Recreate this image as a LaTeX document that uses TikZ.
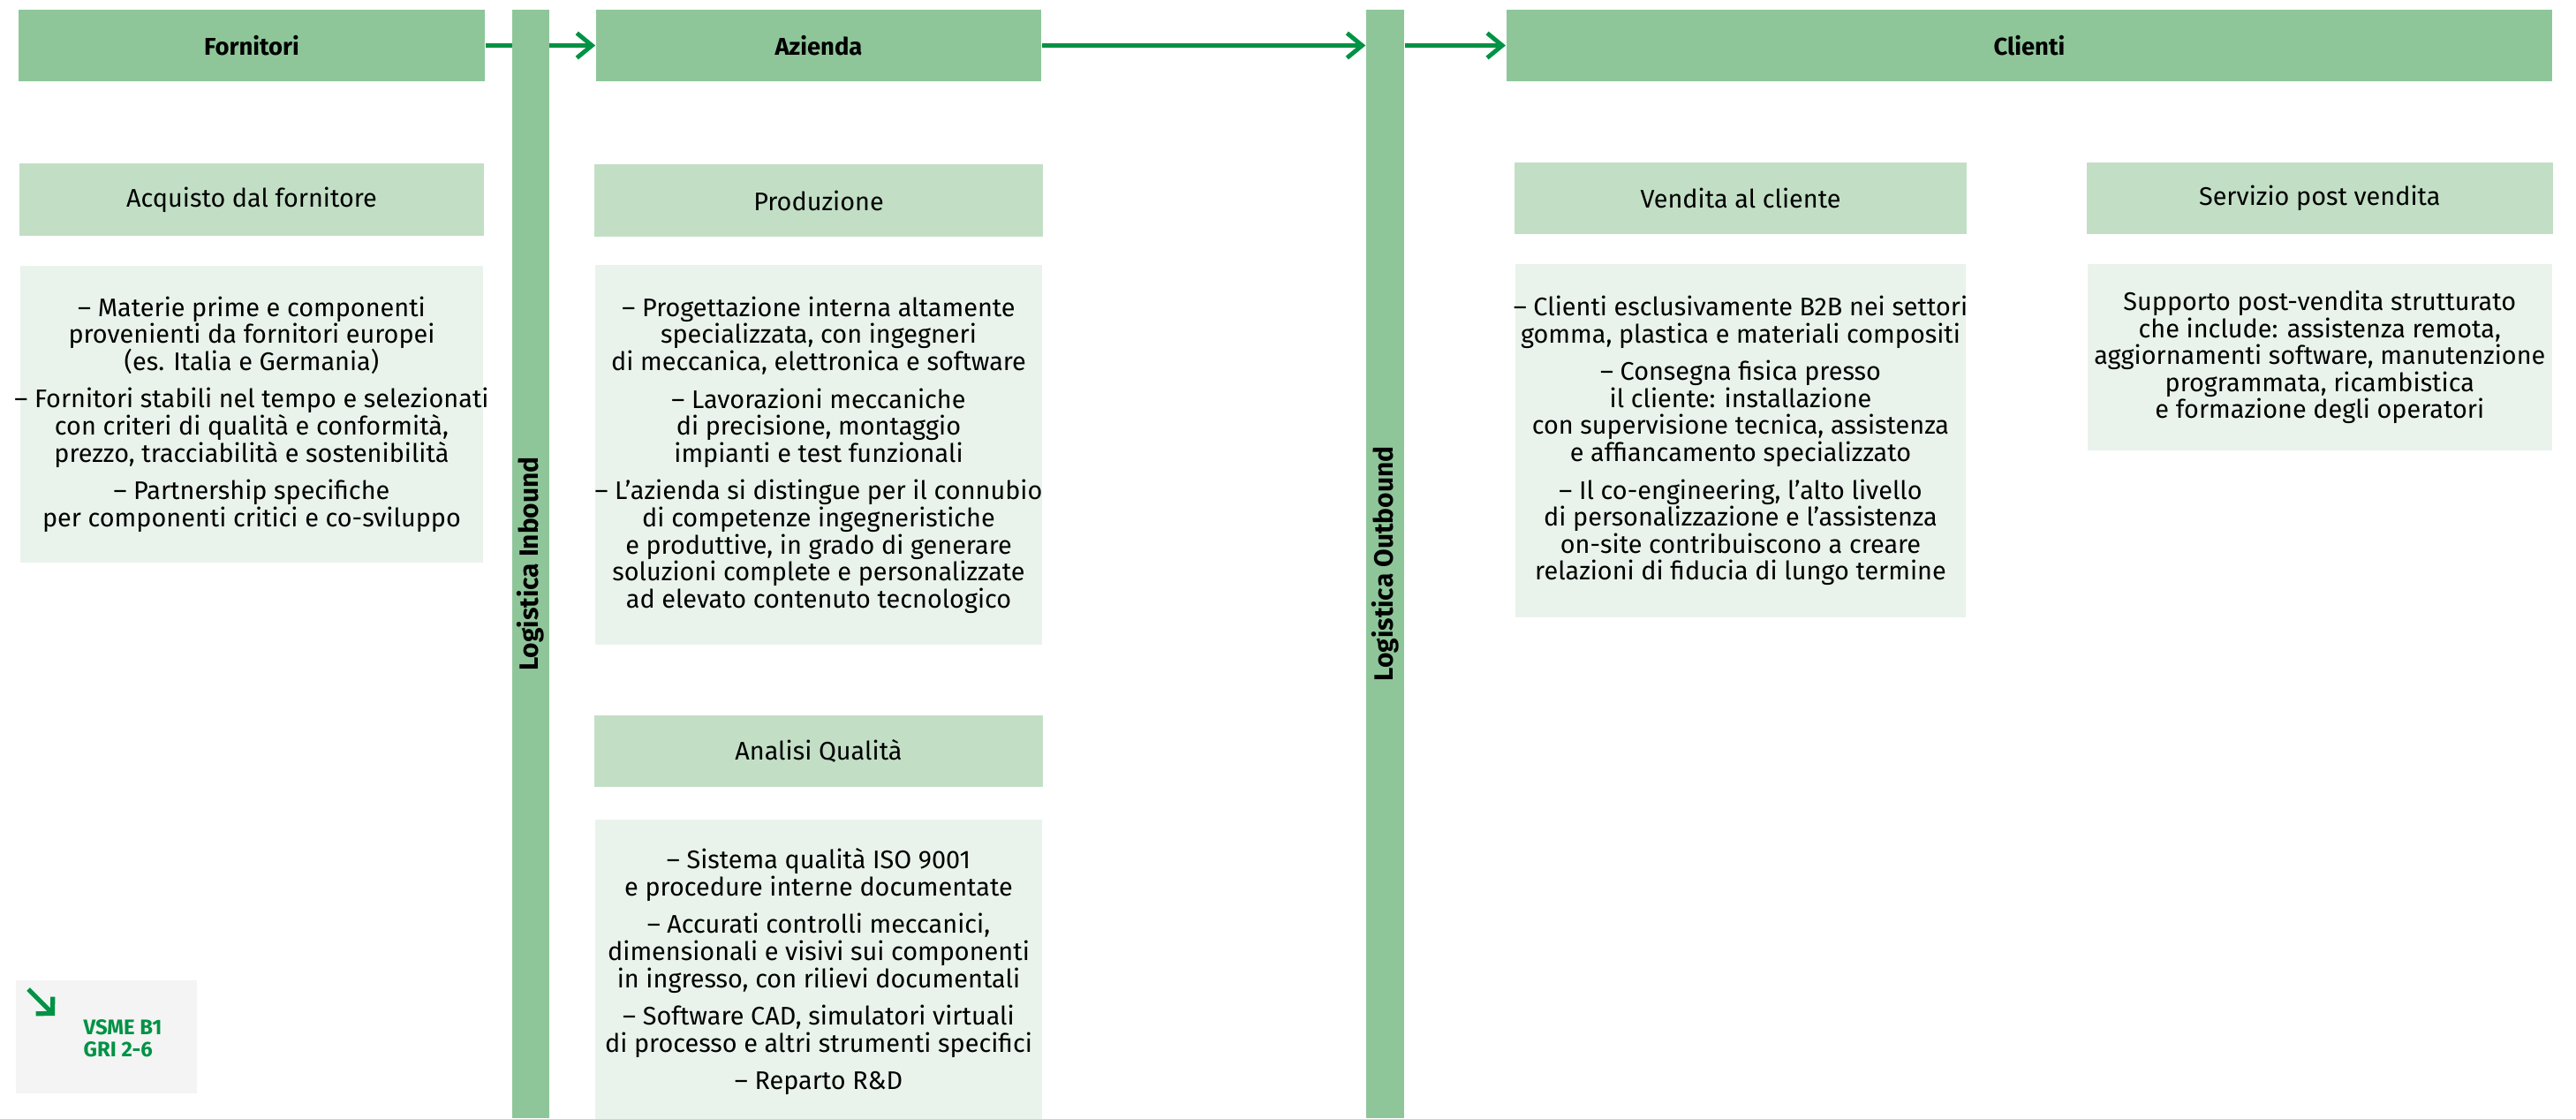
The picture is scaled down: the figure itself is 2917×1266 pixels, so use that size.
\documentclass[tikz,border=0pt]{standalone}
\usepackage{fontspec}
\setmainfont{Fira Sans}
\usepackage{xcolor}
\definecolor{verdescuro}{RGB}{142,198,153}
\definecolor{verdemedio}{RGB}{194,223,198}
\definecolor{verdechiaro}{RGB}{233,243,235}
\definecolor{verdefreccia}{RGB}{0,146,69}
\definecolor{grigiochiaro}{RGB}{244,244,244}
\usepackage{tikz}
\usetikzlibrary{positioning}
\usetikzlibrary{arrows.meta}

\begin{document}
\begin{tikzpicture}[x=0.01cm,y=-0.01cm]
		\tikzstyle{testata}=[rectangle, fill=verdescuro, minimum height=0.81cm, inner sep=0pt, font=\fontsize{7.8}{9}\selectfont\bfseries]
		\tikzstyle{sezione}=[rectangle, fill=verdemedio, minimum height=0.81cm, inner sep=0pt, font=\fontsize{8.2}{9}\selectfont]
		\tikzstyle{descrizione}=[rectangle, fill=verdechiaro, inner ysep=0pt, inner xsep=-0.3cm, align=center, font=\fontsize{8.2}{8.7}\selectfont]
		\tikzstyle{logistica}=[rectangle, fill=verdescuro, minimum height=12.55cm, inner sep=0pt, font=\fontsize{8.5}{9}\selectfont\bfseries]
		\tikzstyle{flusso}=[->, line width=1.4pt, draw=verdefreccia]
		\tikzset{>={Straight Barb[length=0.17cm, width=0.28cm]}}
		\useasboundingbox (0,0) rectangle (2917,1266);
		\node[testata, minimum width=5.28cm] (fornitori) at (285,51.5) {Fornitori};
		\node[testata, minimum width=5.04cm] (azienda) at (927,51.5) {Azienda};
		\node[testata, minimum width=11.84cm] (clienti) at (2298,51.5) {Clienti};
		\path (fornitori) edge[flusso] (azienda);
		\node[logistica, minimum width=0.42cm] (inbound) at (601,638.5) {\rotatebox{90}{Logistica Inbound}};
		\node[logistica, minimum width=0.43cm] (outbound) at (1568.5,638.5) {\rotatebox{90}{Logistica Outbound}};
		\path (azienda.east) edge[flusso] (azienda.east -| outbound.west);
		\path (azienda.east -| outbound.east) edge[flusso] (clienti);
		\node[sezione, minimum width=5.26cm, below=0.92cm of fornitori] (acquisto) {Acquisto dal fornitore};
		\node[descrizione, minimum width=5.24cm, minimum height=3.36cm, below=0.33cm of acquisto] (acquistotesto) {%
			– Materie prime e componenti\\
			provenienti da fornitori europei\\
			(es. Italia e Germania)\\[3.4pt]
			– Fornitori stabili nel tempo e selezionati\\
			con criteri di qualità e conformità,\\
			prezzo, tracciabilità e sostenibilità\\[3.4pt]
			– Partnership specifiche\\
			per componenti critici e co-sviluppo};
		\node[sezione, minimum width=5.08cm, below=0.93cm of azienda] (produzione) {Produzione};
		\node[descrizione, minimum width=5.06cm, minimum height=4.30cm, below=0.31cm of produzione] (produzionetesto) {%
			– Progettazione interna altamente\\
			specializzata, con ingegneri\\
			di meccanica, elettronica e software\\[3.4pt]
			– Lavorazioni meccaniche\\
			di precisione, montaggio\\
			impianti e test funzionali\\[3.4pt]
			– L’azienda si distingue per il connubio\\
			di competenze ingegneristiche\\
			e produttive, in grado di generare\\
			soluzioni complete e personalizzate\\
			ad elevato contenuto tecnologico};
		\node[sezione, minimum width=5.08cm, below=0.78cm of produzionetesto] (analisi) {Analisi Qualità};
		\node[descrizione, minimum width=5.06cm, minimum height=3.44cm, below=0.36cm of analisi] (analisitesto) {%
			– Sistema qualità ISO 9001\\
			e procedure interne documentate\\[3.4pt]
			– Accurati controlli meccanici,\\
			dimensionali e visivi sui componenti\\
			in ingresso, con rilievi documentali\\[3.4pt]
			– Software CAD, simulatori virtuali\\
			di processo e altri strumenti specifici\\[3.4pt]
			– Reparto R\&D};
		\node[sezione, minimum width=5.12cm] (vendita) at (1971,224.5) {Vendita al cliente};
		\node[sezione, minimum width=5.28cm, right=1.34cm of vendita] (servizio) {Servizio post vendita};
		\node[descrizione, minimum width=5.10cm, minimum height=3.99cm, below=0.33cm of vendita] (venditatesto) {%
			– Clienti esclusivamente B2B nei settori\\
			gomma, plastica e materiali compositi\\[3.4pt]
			– Consegna fisica presso\\
			il cliente: installazione\\
			con supervisione tecnica, assistenza\\
			e affiancamento specializzato\\[3.4pt]
			– Il co-engineering, l’alto livello\\
			di personalizzazione e l’assistenza\\
			on-site contribuiscono a creare\\
			relazioni di fiducia di lungo termine};
		\node[descrizione, minimum width=5.26cm, minimum height=2.10cm, below=0.33cm of servizio] (serviziotesto) {%
			Supporto post-vendita strutturato\\
			che include: assistenza remota,\\
			aggiornamenti software, manutenzione\\
			programmata, ricambistica\\
			e formazione degli operatori};
		\node[rectangle, fill=grigiochiaro, minimum width=2.05cm, minimum height=1.28cm] (vsme) at (120.5,1174) {};
		\node[anchor=west, align=left, inner sep=0pt, text=verdefreccia, font=\fontsize{6.8}{7.1}\selectfont\bfseries] (gri) at (94,1176) {VSME B1\\GRI 2-6};
		\coordinate (vsmecoda) at (32,1120);
		\coordinate (vsmepunta) at (62,1150);
		\path (vsmecoda) edge[line width=1.5pt, draw=verdefreccia, -{Straight Barb[length=0.13cm, width=0.27cm]}] (vsmepunta);
	\end{tikzpicture}
\end{document}
